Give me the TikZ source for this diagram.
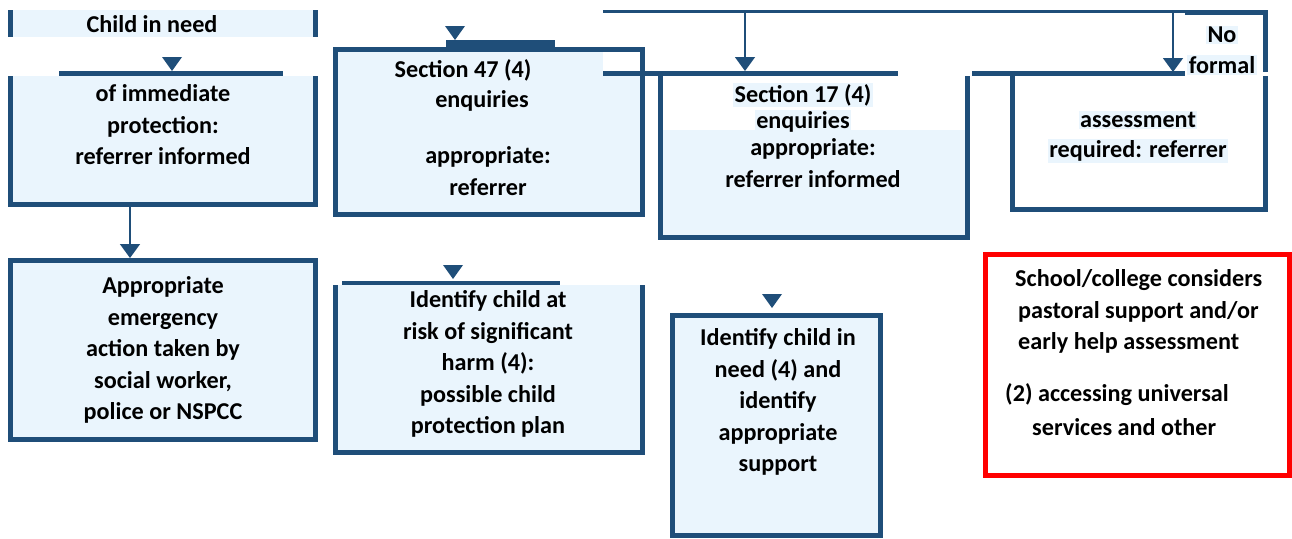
\documentclass[tikz,border=0pt]{standalone}
\usepackage{fontspec}
\setmainfont{Carlito}
\usetikzlibrary{arrows.meta}
\definecolor{dblue}{HTML}{1F4E79}
\definecolor{lblue}{HTML}{EAF5FD}
\begin{document}
\begin{tikzpicture}[x=1pt,y=-1pt,
  bar/.style={draw=dblue,line width=5pt},
  rule/.style={draw=dblue,line width=5pt},
  thinline/.style={draw=dblue,line width=2.5pt},
  conn/.style={draw=dblue,line width=1.6pt,-{Triangle[width=20pt,length=14pt]}},
  txt/.style={font=\bfseries\fontsize{24.2}{31.5}\selectfont,align=center,inner sep=0pt,text=black},
  hl/.style={txt,fill=lblue,inner sep=1.5pt},
  tri/.pic={\fill[dblue] (-10,0) -- (10,0) -- (0,14) -- cycle;}]
\useasboundingbox (0,0) rectangle (1292,538);

% ---------- column 1 ----------
\fill[lblue] (8,10) rectangle (318,37);
\draw[bar] (10.5,10) -- (10.5,37) (315.5,10) -- (315.5,37);
\node[txt] (cin) at (152,24) {Child in need};
\pic at (172,57) {tri};
\draw[rule] (59,73) -- (283,73);
\fill[lblue] (8,76) rectangle (318,207);
\draw[bar] (10.5,76) -- (10.5,204.5) -- (315.5,204.5) -- (315.5,76);
\node[txt] (imm) at (163,125) {of immediate\\protection:\\referrer informed};
\coordinate (immb) at (130,207);
\node[draw=dblue,line width=5pt,fill=lblue,minimum width=305pt,minimum height=179pt,inner sep=0pt] (emer) at (163,350) {};
\node[txt] at (emer.center) {Appropriate\\emergency\\action taken by\\social worker,\\police or NSPCC};
\draw[conn] (immb) -- (emer.north -| immb);

% ---------- column 2 ----------
\pic at (455,26) {tri};
\fill[dblue] (446,40) rectangle (555,48);
\draw[bar,fill=lblue] (335.5,49.5) rectangle (642.5,214.5);
\fill[white] (603,52) rectangle (640,71);
\node[txt] (s47) at (463,70) {Section 47 (4)};
\node[txt] (enq47) at (482,101) {enquiries};
\node[txt] (app47) at (488,171) {appropriate:\\referrer};

\pic at (453,265) {tri};
\draw[draw=dblue,line width=4pt] (342,282.5) -- (560,282.5);
\fill[lblue] (335,285) rectangle (645,455);
\draw[bar] (335.5,285) -- (335.5,452.5) -- (642.5,452.5) -- (642.5,285);
\node[txt] (risk) at (488,364) {Identify child at\\risk of significant\\harm (4):\\possible child\\protection plan};

% ---------- top connector ----------
\coordinate (tl) at (603,11.5);
\coordinate (tr) at (1185,11.5);
\draw[thinline] (tl) -- (tr);
\draw[draw=dblue,line width=5pt] (1185,12.5) -- (1265.5,12.5) -- (1265.5,72);
\coordinate (a17) at (745,11.5);
\coordinate (anf) at (1173,11.5);
\draw[conn] (a17) -- (745,71);
\draw[conn] (anf) -- (1173,72);
\draw[rule] (603,73) -- (898,73);
\draw[rule] (972,73) -- (1185,73);

% ---------- column 3 ----------
\fill[lblue] (660,130) rectangle (968,237);
\draw[bar] (660.5,76) -- (660.5,237.5) -- (967.5,237.5) -- (967.5,76);
\node[hl] (s17) at (803,95) {Section 17 (4)};
\node[hl] (enq17) at (803,122) {enquiries};
\node[txt] (app17) at (813,163) {appropriate:\\referrer informed};

\pic at (772,294) {tri};
\draw[bar,fill=lblue] (672.5,315.5) rectangle (880.5,535.5);
\node[txt] (cin4) at (778,402) {Identify child in\\need (4) and\\identify\\appropriate\\support};

% ---------- column 4 ----------
\node[hl] (no) at (1222,35) {No};
\node[hl] (formal) at (1222,65) {formal};
\draw[bar] (1012.5,76) -- (1012.5,209.5) -- (1265.5,209.5) -- (1265.5,76);
\node[hl] (ass) at (1138,120) {assessment};
\node[hl] (req) at (1138,151) {required: referrer};

\draw[draw=red,line width=5pt] (985.5,254.5) rectangle (1289.5,475.5);
\node[txt,anchor=west] (r1) at (1015,280) {School/college considers};
\node[txt,anchor=west] (r2) at (1018,312) {pastoral support and/or};
\node[txt,anchor=west] (r3) at (1018,343) {early help assessment};
\node[txt,anchor=west] (r4) at (1005,395) {(2) accessing universal};
\node[txt,anchor=west] (r5) at (1032,427) {services and other};
\end{tikzpicture}
\end{document}
